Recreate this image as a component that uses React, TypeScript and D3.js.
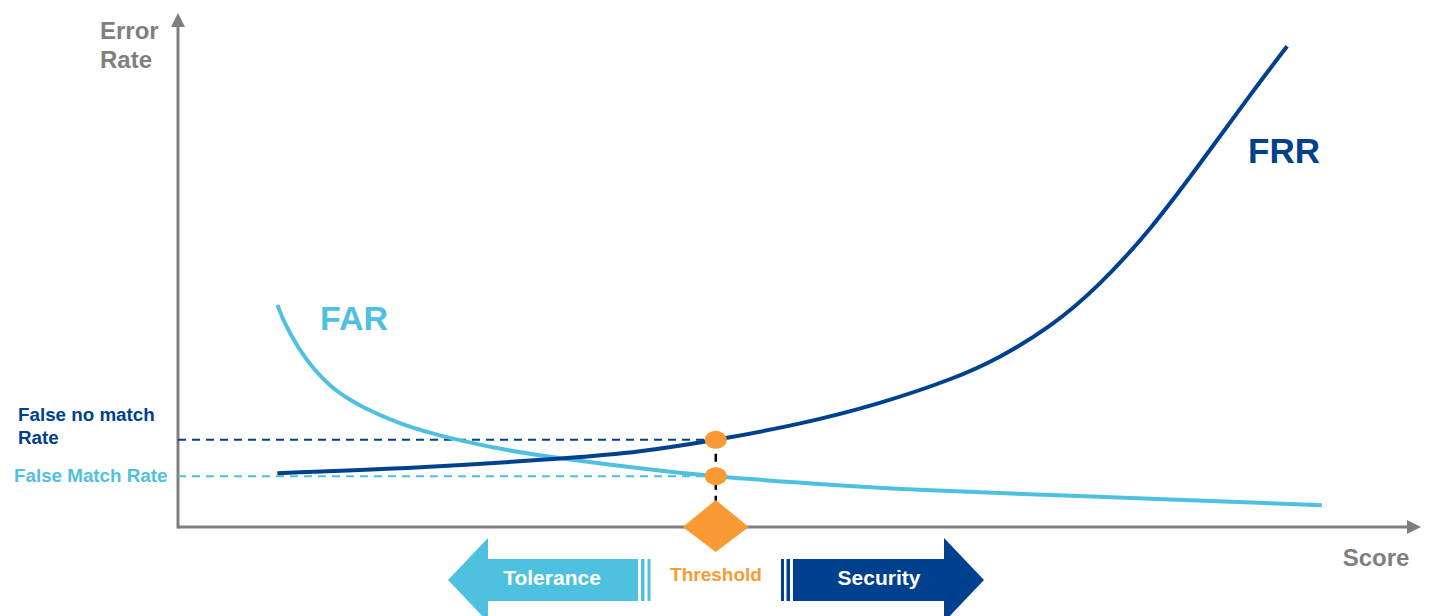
import React from 'react';
import * as d3 from 'd3';

// score (0-100) / error rate (0-100)
const farScores = [8, 8.6, 9.7, 11, 12.4, 13.7, 15.1, 17.7, 20.5, 23.1, 26.3, 30.8, 37.2, 43.3, 52.5, 62.2, 78.3, 92.1];
const farValues = [43.3, 39.8, 35.0, 30.7, 27.3, 25.05, 23.15, 20.4, 18.25, 16.7, 15.1, 13.4, 11.45, 9.9, 8.25, 7.0, 5.5, 4.25];
const frrScores = [8, 19.5, 30.8, 37.2, 43.3, 50.1, 56.5, 62.2, 66.2, 70.2, 74.2, 78.3, 82.3, 86.3, 89.3];
const frrValues = [10.5, 11.65, 13.35, 14.76, 17.0, 20.2, 24.2, 28.85, 33.25, 39.25, 47.45, 58.3, 70.9, 84.1, 93.7];
const threshold = 43.3;
const falseNoMatchRate = 17.0;
const falseMatchRate = 9.9;

const W = 1435;
const H = 616;
const GRAY = '#7f7f7f';
const DARK = '#00418f';
const LIGHT = '#4fc1e0';
const ORANGE = '#fa9a35';
const FONT = '"Liberation Sans", Arial, sans-serif';

type Pt = { s: number; v: number };

const App = () => {
  const x = d3.scaleLinear().domain([0, 100]).range([178, 1420]);
  const y = d3.scaleLinear().domain([0, 100]).range([527, 14]);

  const far: Pt[] = farScores.map((s, i) => ({ s, v: farValues[i] }));
  const frr: Pt[] = frrScores.map((s, i) => ({ s, v: frrValues[i] }));

  const line = d3.line<Pt>()
    .x(d => x(d.s))
    .y(d => y(d.v))
    .curve(d3.curveNatural);

  const x0 = x(0), y0 = y(0);
  const xEnd = x(100) + 1, yTop = y(100) - 1;
  const tx = x(threshold);
  const yFnm = y(falseNoMatchRate);
  const yFm = y(falseMatchRate);

  // bottom arrows (annotation shapes)
  const tolPath = 'M448,580 L488,538 L488,559 L638,559 L638,601 L488,601 L488,622 Z';
  const secPath = 'M984,580 L944,538 L944,559 L793,559 L793,601 L944,601 L944,622 Z';

  return (
    <svg width={W} height={H} style={{ position: 'absolute', left: 0, top: 0, background: '#fff' }}
      fontFamily={FONT} fontWeight="bold">
      {/* axes */}
      <line x1={x0} y1={y0} x2={xEnd - 12} y2={y0} stroke={GRAY} strokeWidth={3} />
      <path d={`M${xEnd},${y0} L${xEnd - 14},${y0 - 7} L${xEnd - 14},${y0 + 7} Z`} fill={GRAY} />
      <line x1={x0} y1={y0 + 1.5} x2={x0} y2={yTop + 12} stroke={GRAY} strokeWidth={3} />
      <path d={`M${x0},${yTop} L${x0 - 7},${yTop + 14} L${x0 + 7},${yTop + 14} Z`} fill={GRAY} />
      <text x={100} y={39} fontSize={24} fill={GRAY}>Error</text>
      <text x={100} y={68} fontSize={24} fill={GRAY}>Rate</text>
      <text x={1376} y={566} fontSize={24} fill={GRAY} textAnchor="middle">Score</text>

      {/* reference dashes */}
      <line x1={x0} y1={yFnm} x2={tx} y2={yFnm} stroke={DARK} strokeWidth={2} strokeDasharray="8,6" />
      <line x1={x0} y1={yFm} x2={tx} y2={yFm} stroke={LIGHT} strokeWidth={2} strokeDasharray="8,6" />
      <line x1={tx} y1={yFnm} x2={tx} y2={y0 - 26} stroke="#000" strokeWidth={2.5} strokeDasharray="8,6" />

      {/* curves */}
      <path d={line(far) ?? ''} fill="none" stroke={LIGHT} strokeWidth={4} />
      <path d={line(frr) ?? ''} fill="none" stroke={DARK} strokeWidth={4} />
      <text x={320} y={330} fontSize={34} fill={LIGHT}>FAR</text>
      <text x={1248} y={163} fontSize={35} fill={DARK}>FRR</text>

      {/* threshold markers */}
      <ellipse cx={tx} cy={yFnm} rx={11} ry={9} fill={ORANGE} />
      <ellipse cx={tx} cy={yFm} rx={11} ry={9} fill={ORANGE} />
      <path d={`M${tx},${y0 - 27} L${tx + 33},${y0} L${tx},${y0 + 25} L${tx - 33},${y0} Z`} fill={ORANGE} />

      {/* left labels */}
      <text x={18} y={421} fontSize={18.8} fill={DARK}>False no match</text>
      <text x={18} y={444} fontSize={18.8} fill={DARK}>Rate</text>
      <text x={14} y={482} fontSize={18.8} fill={LIGHT}>False Match Rate</text>

      {/* tolerance / security arrows */}
      <path d={tolPath} fill={LIGHT} />
      <rect x={641} y={559} width={3.5} height={42} fill={LIGHT} />
      <rect x={647.5} y={559} width={3} height={42} fill={LIGHT} />
      <text x={552} y={585} fontSize={21} fill="#fff" textAnchor="middle">Tolerance</text>
      <path d={secPath} fill={DARK} />
      <rect x={781} y={559} width={3} height={42} fill={DARK} />
      <rect x={786.5} y={559} width={3.5} height={42} fill={DARK} />
      <text x={879} y={585} fontSize={21} fill="#fff" textAnchor="middle">Security</text>
      <text x={716} y={581} fontSize={19} fill={ORANGE} textAnchor="middle">Threshold</text>
    </svg>
  );
};

export default App;
